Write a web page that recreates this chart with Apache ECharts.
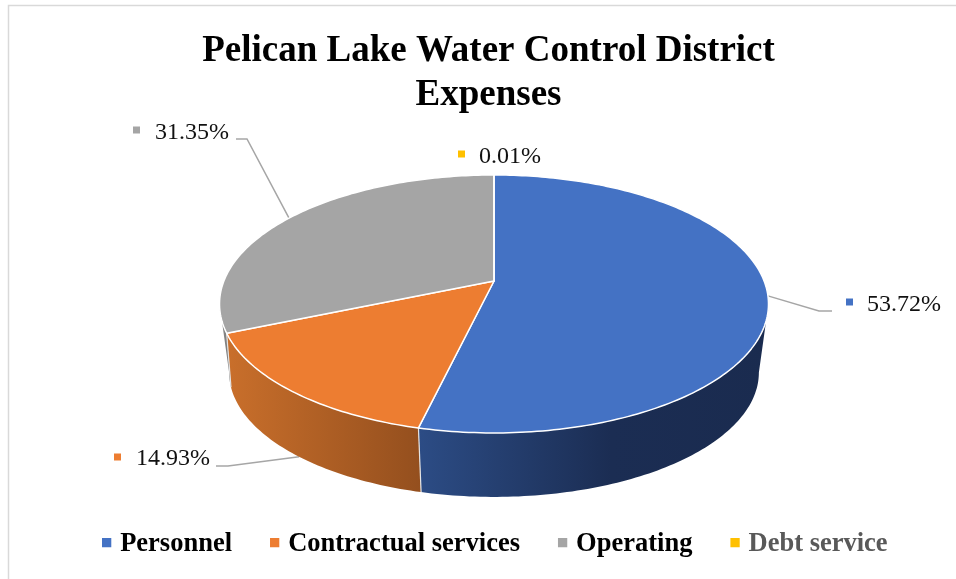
<!DOCTYPE html>
<html>
<head>
<meta charset="utf-8">
<title>Pelican Lake Water Control District Expenses</title>
<script src="https://cdn.jsdelivr.net/npm/echarts@6/dist/echarts.min.js"></script>
<style>
    html, body { margin: 0; padding: 0; background: #fff; }
    #chart { width: 956px; height: 579px; }
</style>
</head>
<body>
<div id="chart"></div>
<script>
const chartTitle = "Pelican Lake Water Control District\nExpenses";
const categories = ["Personnel", "Contractual services", "Operating", "Debt service"];
const shares = [53.72, 14.93, 31.35, 0.01];

const topColors = ["#4472C4", "#ED7D31", "#A5A5A5", "#FFC000"];
const legendColors = ["#000000", "#000000", "#000000", "#595959"];
const wallStops = [
    [[0, "#2C4C85"], [0.55, "#1B2D53"], [1, "#1A2B4F"]],
    [[0, "#C96F2B"], [1, "#944F1E"]],
    [[0, "#8A8A8A"], [1, "#7A7A7A"]],
    [[0, "#BF9000"], [1, "#BF9000"]]
];

// where each label sits: marker x/y, text x/y, leader elbow (x, y, end x)
const labelSpots = [
    {mx: 846, my: 302, tx: 867, ty: 305, elbow: [819, 311, 832]},
    {mx: 114, my: 457, tx: 136, ty: 459, elbow: [228, 466, 216]},
    {mx: 133, my: 130, tx: 155, ty: 133, elbow: [247, 139, 236]},
    {mx: 458, my: 154, tx: 479, ty: 157, elbow: null}
];

// the disc is a circle seen in perspective, so its apex sits above the middle of the ellipse
const cx = 494, apexY = 281;
const spanX = 270.1, spanY = 124.9, persp = 0.178;
const baseScale = 0.965, baseApexY = 350.3;
// left and right edges of the visible side wall, degrees clockwise from the top
const wallFrom = 100.25, wallTo = 259.75;
// seams on the left of the wall lean outward, so their foot lands further round the base
const leftLean = 6;

const total = shares.reduce((a, b) => a + b, 0);
const starts = [];
shares.reduce((sum, v, i) => { starts[i] = sum / total * 360; return sum + v; }, 0);

function project(deg, scale, y0) {
    const t = deg * Math.PI / 180;
    const u = Math.sin(t), v = -Math.cos(t);
    const w = 1 - persp * v;
    return [cx + scale * spanX * u / w, y0 + scale * spanY * v / w];
}

function arc(from, to, scale, y0) {
    const n = Math.max(1, Math.ceil(Math.abs(to - from)));
    const pts = [];
    for (let i = 0; i <= n; i++)
        pts.push(project(from + (to - from) * i / n, scale, y0));
    return pts;
}

function baseDeg(d) {
    return d > 200 && d < wallTo ? Math.min(d + leftLean, wallTo) : d;
}

function renderSlice(params, api) {
    const i = params.seriesIndex;
    const from = starts[i];
    const to = from + api.value(0) / total * 360;
    const mid = (from + to) / 2;
    const children = [];

    const spot = labelSpots[i];
    if (spot.elbow) {
        // a label on the front of the pie points at the wall, not at the top face
        const front = mid > 180 && mid < wallTo;
        const anchor = front ? project(mid, baseScale, baseApexY) : project(mid, 1, apexY);
        children.push({
            type: "polyline", z2: 1,
            shape: {points: [anchor, [spot.elbow[0], spot.elbow[1]], [spot.elbow[2], spot.elbow[1]]]},
            style: {stroke: "#A6A6A6", lineWidth: 1.5, fill: null}
        });
    }
    children.push({
        type: "rect", z2: 5,
        shape: {x: spot.mx, y: spot.my - 3.5, width: 7, height: 7},
        style: {fill: topColors[i]}
    });
    children.push({
        type: "text", z2: 5,
        style: {
            x: spot.tx, y: spot.ty, text: shares[i].toFixed(2) + "%",
            font: "24px 'Liberation Serif'", fill: "#111",
            textAlign: "left", textVerticalAlign: "middle"
        }
    });

    const a = Math.max(from, wallFrom), b = Math.min(to, wallTo);
    if (b > a) {
        const footA = baseDeg(a), footB = baseDeg(b);
        children.push({
            type: "polygon", z2: 2,
            shape: {points: arc(a, b, 1, apexY).concat(arc(footB, footA, baseScale, baseApexY))},
            style: {
                fill: {
                    type: "linear", x: 0, y: 0, x2: 1, y2: 0,
                    colorStops: wallStops[i].map(s => ({offset: s[0], color: s[1]}))
                }
            }
        });
        if (b < wallTo) {
            const head = project(b, 1, apexY), foot = project(footB, baseScale, baseApexY);
            children.push({
                type: "line", z2: 3,
                shape: {x1: head[0], y1: head[1], x2: foot[0], y2: foot[1]},
                style: {stroke: "#E4E4E4", lineWidth: 1.2}
            });
        }
    }
    children.push({
        type: "polygon", z2: 4,
        shape: {points: [[cx, apexY]].concat(arc(from, to, 1, apexY))},
        style: {fill: topColors[i], stroke: "#FFFFFF", lineWidth: 1.5, lineJoin: "round"}
    });
    return {type: "group", children: children};
}

let myChart = echarts.init(document.getElementById("chart"));

myChart.setOption({
    animation: false,
    backgroundColor: "#fff",
    title: {
        text: chartTitle,
        left: 483.5,
        top: 24,
        textAlign: "center",
        textStyle: {
            fontFamily: "Liberation Serif",
            fontWeight: "bold",
            fontSize: 37,
            lineHeight: 44,
            color: "#000"
        }
    },
    legend: {
        left: 97,
        top: 526,
        // the extra stub below the square lifts it a little against the text
        icon: "path://M0,0H10V10H0Z M0,14H0.01",
        itemWidth: 17,
        itemHeight: 13,
        itemGap: 38,
        selectedMode: false,
        data: categories.map((name, i) => ({name: name, textStyle: {color: legendColors[i]}})),
        textStyle: {
            fontFamily: "Liberation Serif",
            fontWeight: "bold",
            fontSize: 26.5
        }
    },
    graphic: [{
        type: "polyline",
        silent: true,
        shape: {points: [[8.5, 579], [8.5, 5.5], [956, 5.5]]},
        style: {stroke: "#D9D9D9", lineWidth: 1.5, fill: null}
    }],
    series: categories.map((name, i) => ({
        name: name,
        type: "custom",
        coordinateSystem: "none",
        itemStyle: {color: topColors[i]},
        renderItem: renderSlice,
        data: [shares[i]]
    }))
});
</script>
</body>
</html>
